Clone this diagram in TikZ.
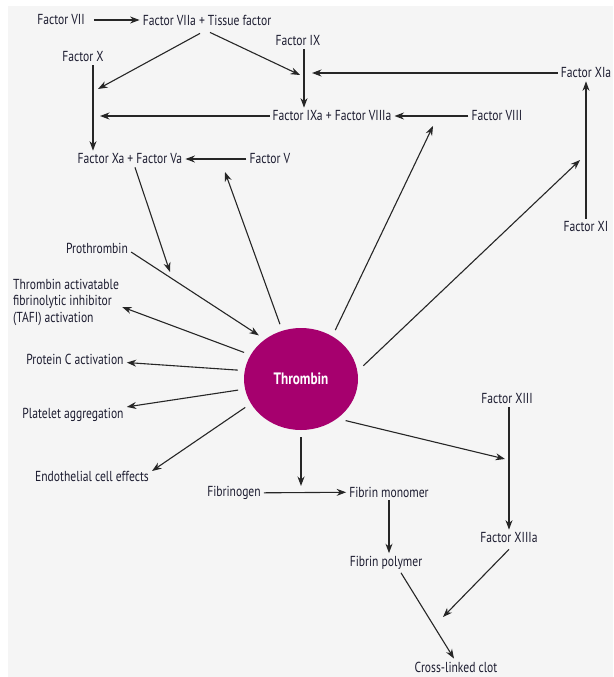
\documentclass[tikz,border=0pt]{standalone}
\usepackage{fontspec}
\setmainfont{PT Sans}[FakeStretch=0.8]
\usetikzlibrary{arrows.meta,shapes.geometric}

\definecolor{bgpanel}{HTML}{F5F5F5}
\definecolor{thrcol}{HTML}{A6006E}
\definecolor{txtcol}{HTML}{1C1C30}

\begin{document}
\begin{tikzpicture}[x=1pt,y=-1pt,
  >={Stealth[length=9.5pt,width=7pt]},
  lbl/.style={text=txtcol,font=\fontsize{14.5}{16.5}\selectfont,inner sep=3pt},
  thromb/.style={ellipse,fill=thrcol,minimum width=114pt,minimum height=102pt,
    inner sep=0pt,outer sep=7pt,text=white,font=\bfseries\fontsize{16.5}{18}\selectfont},
  link/.style={->,line width=1.1pt,draw=black!85}]

  \useasboundingbox (0,0) rectangle (613,677);
  \fill[bgpanel] (8,6) rectangle (613,677);

  % extrinsic and intrinsic side
  \node[lbl] (f7) at (61,20) {Factor VII};
  \node[lbl] (f7a) at (207,20) {Factor VIIa + Tissue factor};
  \node[lbl] (f10) at (83,57) {Factor X};
  \node[lbl] (f9) at (298,41) {Factor IX};
  \node[lbl] (f11a) at (586,73) {Factor XIa};
  \node[lbl] (f9a) at (332,116) {Factor IXa + Factor VIIIa};
  \node[lbl] (f8) at (497,116) {Factor VIII};
  \node[lbl] (f11) at (586,227) {Factor XI};
  \node[lbl] (f10a) at (130,159) {Factor Xa + Factor Va};
  \node[lbl] (f5) at (270,159) {Factor V};

  % thrombin and its effects
  \node[thromb] (thr) at (301,379) {Thrombin};
  \node[lbl] (proth) at (97,248) {Prothrombin};
  \node[lbl,align=left,anchor=west] (tafi) at (10,302)
    {Thrombin activatable\\fibrinolytic inhibitor\\(TAFI) activation};
  \node[lbl] (protc) at (75,359) {Protein C activation};
  \node[lbl] (plat) at (73,415) {Platelet aggregation};
  \node[lbl] (endo) at (92,476) {Endothelial cell effects};

  % clot formation
  \node[lbl] (fgen) at (234,493) {Fibrinogen};
  \node[lbl] (fmono) at (389,492) {Fibrin monomer};
  \node[lbl] (fpoly) at (386,563) {Fibrin polymer};
  \node[lbl] (clot) at (456,667) {Cross-linked clot};
  \node[lbl] (f13) at (507,399) {Factor XIII};
  \node[lbl] (f13a) at (509,538) {Factor XIIIa};

  % free ends on other arrows
  \coordinate (jX) at (93,89);
  \coordinate (jIX) at (304,75);
  \coordinate (jP) at (170,272);
  \coordinate (jV) at (225,172);
  \coordinate (jVIII) at (433,126);
  \coordinate (jXI) at (580,160);
  \coordinate (jXIII) at (505,459);
  \coordinate (jC) at (443,617);

  \draw[link,shorten <=6pt] (f7) -- (f7a);
  \draw[link] ([xshift=-7pt,yshift=-5pt]f7a.south) -- ([xshift=5pt]jX);
  \draw[link] ([xshift=3pt,yshift=-4pt]f7a.south) -- ([xshift=-4pt]jIX);
  \draw[link] (f10.south -| jX) -- (f10a.north -| jX);
  \draw[link] (f9.south -| jIX) -- (f9a.north -| jIX);
  \draw[link,shorten >=8pt] (f11a.west) -- (f11a.west -| jIX);
  \draw[link,shorten >=7pt] (f9a.west) -- (f9a.west -| jX);
  \draw[link] (f8) -- (f9a);
  \draw[link] (f11) -- (f11a);
  \draw[link] (f5) -- (f10a);
  \draw[link] ([xshift=5pt]f10a.south) -- (jP);
  \draw[link] (thr.111) -- (jV);
  \draw[link] (thr.55) -- (jVIII);
  \draw[link] (thr.12) -- (jXI);
  \draw[link] ([yshift=-4pt]proth.east) -- (thr.134);
  \draw[link] (thr.155) -- ([yshift=-5pt]tafi.east);
  \draw[link] (thr.172) -- (protc);
  \draw[link] (thr.190) -- (plat);
  \draw[link] (thr.207) -- ([yshift=5pt]endo.east);
  \draw[link,shorten >=7pt] (thr.270) -- (thr.270 |- fgen);
  \draw[link] (fgen) -- (fmono);
  \draw[link] (fmono.south) -- (fmono.south |- fpoly.north);
  \draw[link] ([xshift=15pt]fpoly.south) -- ([xshift=-2pt]clot.north);
  \draw[link] (f13.south -| f13a) -- (f13a);
  \draw[link] (thr.317) -- (jXIII);
  \draw[link] ([yshift=-3pt]f13a.south) -- (jC);
\end{tikzpicture}
\end{document}
